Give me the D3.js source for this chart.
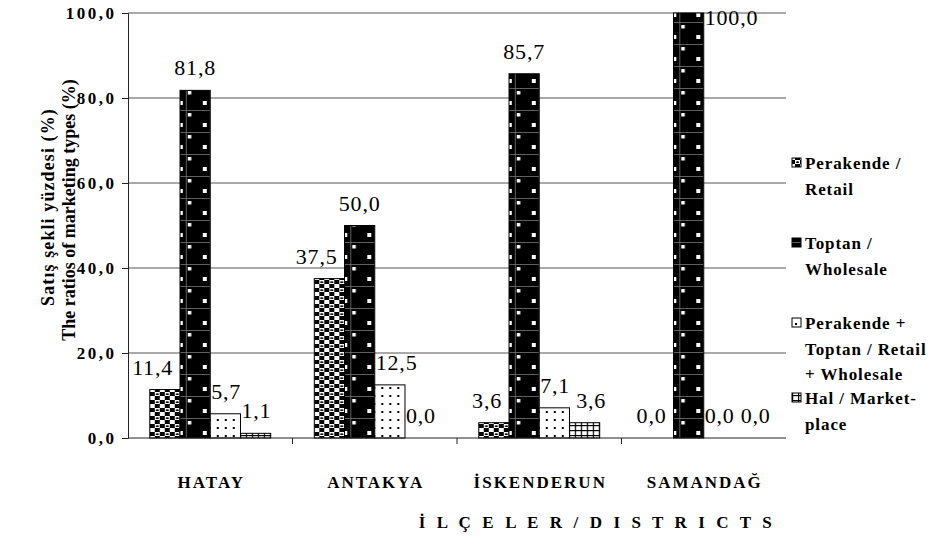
<!DOCTYPE html>
<html><head><meta charset="utf-8">
<script src="https://cdn.jsdelivr.net/npm/d3@7/dist/d3.min.js"></script>
<style>body{margin:0;background:#fff}svg{display:block}
svg text{font-family:"Liberation Serif","Times New Roman","DejaVu Serif",serif}</style>
</head><body>
<script>
const districts = ["HATAY", "ANTAKYA", "İSKENDERUN", "SAMANDAĞ"];
const seriesNames = ["Perakende / Retail", "Toptan / Wholesale", "Perakende + Toptan / Retail + Wholesale", "Hal / Market-place"];
const legendLines = [["Perakende /", "Retail"], ["Toptan /", "Wholesale"], ["Perakende +", "Toptan / Retail", "+ Wholesale"], ["Hal / Market-", "place"]];
const perakende = [11.4, 37.5, 3.6, 0.0];
const toptan = [81.8, 50.0, 85.7, 100.0];
const perakendeToptan = [5.7, 12.5, 7.1, 0.0];
const hal = [1.1, 0.0, 3.6, 0.0];
const yTicks = [0, 20, 40, 60, 80, 100];
const yTitle = ["Satış şekli yüzdesi (%)", "The ratios of marketing types (%)"];
const xTitle = "İ L Ç E L E R / D I S T R I C T S";

(function () {
const series = [perakende, toptan, perakendeToptan, hal];
const W = 936, H = 543;
const svg = d3.select("body").append("svg").attr("width", W).attr("height", H);
const defs = svg.append("defs");

// patterns
const p0 = defs.append("pattern").attr("id", "pat0").attr("patternUnits", "userSpaceOnUse").attr("width", 10).attr("height", 8);
p0.append("rect").attr("width", 10).attr("height", 8).attr("fill", "#fff");
p0.append("rect").attr("x", 0).attr("y", 0).attr("width", 5).attr("height", 4).attr("fill", "#000");
p0.append("rect").attr("x", 5).attr("y", 4).attr("width", 5).attr("height", 4).attr("fill", "#000");
p0.append("ellipse").attr("cx", 7.5).attr("cy", 2.2).attr("rx", 1.6).attr("ry", 0.9).attr("fill", "#000");
p0.append("ellipse").attr("cx", 2.5).attr("cy", 6.2).attr("rx", 1.6).attr("ry", 0.9).attr("fill", "#fff");

const p1 = defs.append("pattern").attr("id", "pat1").attr("patternUnits", "userSpaceOnUse").attr("width", 24).attr("height", 22);
p1.append("rect").attr("width", 24).attr("height", 22).attr("fill", "#000");
p1.append("rect").attr("x", 12).attr("y", 0).attr("width", 0.8).attr("height", 22).attr("fill", "#777");
p1.append("rect").attr("x", 0).attr("y", 0).attr("width", 24).attr("height", 0.8).attr("fill", "#777");
p1.append("rect").attr("x", 5).attr("y", 13).attr("width", 4).attr("height", 4).attr("fill", "#fff");
p1.append("rect").attr("x", 14).attr("y", 3).attr("width", 3.5).attr("height", 3.5).attr("fill", "#fff");

const p2 = defs.append("pattern").attr("id", "pat2").attr("patternUnits", "userSpaceOnUse").attr("width", 8).attr("height", 8);
p2.append("rect").attr("width", 8).attr("height", 8).attr("fill", "#fff");
p2.append("rect").attr("x", 3).attr("y", 3).attr("width", 2).attr("height", 2).attr("fill", "#000");

const p3 = defs.append("pattern").attr("id", "pat3").attr("patternUnits", "userSpaceOnUse").attr("width", 6).attr("height", 5);
p3.append("rect").attr("width", 6).attr("height", 5).attr("fill", "#fff");
p3.append("rect").attr("x", 0).attr("y", 0).attr("width", 1.2).attr("height", 5).attr("fill", "#000");
p3.append("rect").attr("x", 0).attr("y", 0).attr("width", 6).attr("height", 1.2).attr("fill", "#000");

const mLeft = 128, mRight = 786, mTop = 13, mBottom = 438;
const x0 = d3.scaleBand().domain(districts).range([mLeft, mRight]).paddingInner(0.265).paddingOuter(0.1325);
const x1 = d3.scaleBand().domain(d3.range(series.length)).range([0, x0.bandwidth()]);
const y = d3.scaleLinear().domain([0, 100]).range([mBottom, mTop]);

// grid lines
svg.append("g").selectAll("line").data(yTicks.filter(d => d > 0)).join("line")
  .attr("x1", mLeft).attr("x2", mRight).attr("y1", d => y(d)).attr("y2", d => y(d))
  .attr("stroke", "#555").attr("stroke-width", 1);

// y axis
const yAxis = svg.append("g").attr("transform", `translate(${mLeft},0)`)
  .call(d3.axisLeft(y).tickValues(yTicks).tickSize(6).tickPadding(5.5).tickFormat(d => d3.format(".1f")(d).replace(".", ",")));
yAxis.attr("font-family", null);
yAxis.select(".domain").attr("stroke", "#222");
yAxis.selectAll(".tick line").attr("stroke", "#222");
yAxis.selectAll("text").attr("font-size", 17).attr("font-weight", "bold").attr("fill", "#000")
  .attr("letter-spacing", 2.5);

// bars
const groups = svg.append("g").selectAll("g").data(districts).join("g")
  .attr("transform", d => `translate(${x0(d)},0)`);
groups.selectAll("rect").data((d, i) => series.map((s, k) => ({k, v: s[i]}))).join("rect")
  .attr("x", d => x1(d.k)).attr("width", x1.bandwidth())
  .attr("y", d => y(d.v)).attr("height", d => mBottom - y(d.v))
  .attr("fill", d => `url(#pat${d.k})`)
  .attr("stroke", d => d.v > 0 ? "#000" : "none").attr("stroke-width", 1);

// x axis
const xAxisG = svg.append("g").attr("transform", `translate(0,${mBottom})`);
xAxisG.append("line").attr("x1", mLeft).attr("x2", mRight).attr("stroke", "#222");
const bounds = districts.slice(1).map(d => x0(d) - x0.step() * x0.paddingInner() / 2);
xAxisG.selectAll(".tk").data(bounds).join("line").attr("class", "tk")
  .attr("x1", d => d).attr("x2", d => d).attr("y1", 0).attr("y2", 6).attr("stroke", "#222");
xAxisG.selectAll("text").data(districts).join("text")
  .attr("x", d => x0(d) + x0.bandwidth() / 2 + 1).attr("y", 50)
  .attr("text-anchor", "middle").attr("font-size", 17).attr("font-weight", "bold")
  .attr("letter-spacing", 2)
  .text(d => d);

// data labels
const labG = svg.append("g");
districts.forEach((dist, i) => {
  let prevRight = -Infinity, prevBase = null;
  series.forEach((s, k) => {
    const v = s[i];
    const bx = x0(dist) + x1(k), bw = x1.bandwidth();
    const txt = d3.format(".1f")(v).replace(".", ",");
    const t = labG.append("text").attr("font-size", 22).attr("letter-spacing", 0.8).text(txt);
    const tw = t.node().getComputedTextLength();
    if (v >= 100) {
      t.attr("x", bx + bw + 1).attr("y", y(v) + 12);
      prevRight = -Infinity;
      return;
    }
    let cx = bx + bw / 2;
    const base = y(v) - 15;
    if (k + 1 < series.length && y(series[k + 1][i]) < base) {
      const nl = bx + bw;
      if (cx + tw / 2 > nl - 1) cx = nl - 1 - tw / 2 - 6;
    }
    if (k > 0 && y(series[k - 1][i]) < base) {
      const pr = bx;
      if (cx - tw / 2 < pr + 1) cx = pr + 1 + tw / 2;
    }
    if (prevBase !== null && Math.abs(prevBase - base) < 16 && cx - tw / 2 < prevRight + 6) {
      cx = prevRight + 6 + tw / 2;
    }
    t.attr("x", cx - tw / 2).attr("y", base);
    prevRight = cx + tw / 2;
    prevBase = base;
  });
});

// y title
const yt = svg.append("g").attr("font-size", 18).attr("font-weight", "bold");
yt.append("text").attr("transform", "translate(54,207) rotate(-90)").attr("text-anchor", "middle")
  .attr("letter-spacing", 1.1).text(yTitle[0]);
yt.append("text").attr("transform", "translate(75,210) rotate(-90)").attr("text-anchor", "middle").text(yTitle[1]);

// x title
svg.append("text").attr("x", 597).attr("y", 528).attr("text-anchor", "middle")
  .attr("font-size", 17).attr("font-weight", "bold").attr("letter-spacing", 3.6).text(xTitle);

// legend
const legY = [169, 249, 329, 404];
const leg = svg.append("g").attr("font-size", 17).attr("font-weight", "bold").attr("letter-spacing", 0.9);
legendLines.forEach((lines, k) => {
  leg.append("rect").attr("x", 792).attr("y", legY[k] - 11).attr("width", 9).attr("height", 9)
    .attr("fill", `url(#pat${k})`).attr("stroke", "#000").attr("stroke-width", 1);
  lines.forEach((ln, j) => {
    leg.append("text").attr("x", 805).attr("y", legY[k] + j * 25.5).text(ln);
  });
});
})();
</script>
</body></html>
